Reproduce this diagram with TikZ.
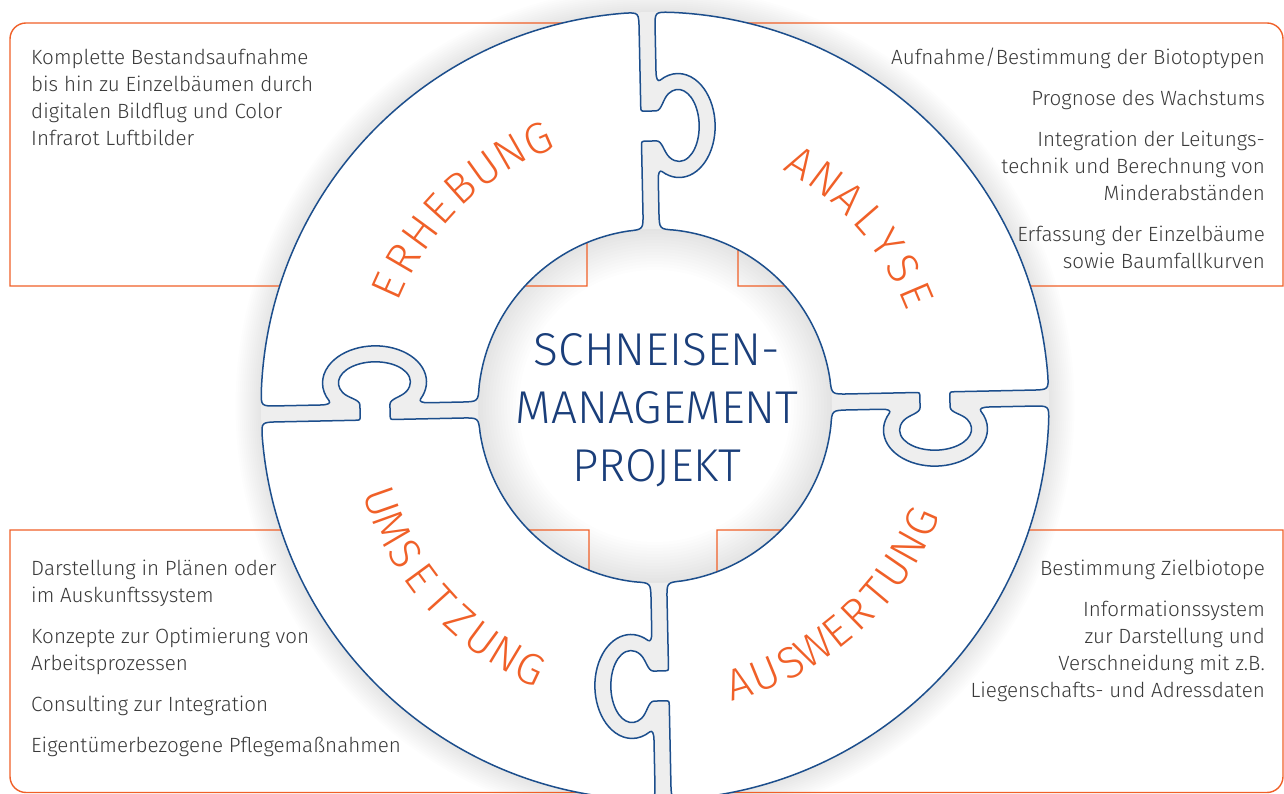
\documentclass[tikz,border=0pt]{standalone}
\usepackage{fontspec}
\setmainfont{Fira Sans Light}
\newfontfamily\titlefont{Fira Sans Light}
\usetikzlibrary{calc}

\definecolor{accent}{RGB}{240,96,40}
\definecolor{rim}{RGB}{28,78,140}
\definecolor{titleblue}{RGB}{26,62,122}
\definecolor{bodytext}{RGB}{58,58,58}
\definecolor{gapgray}{RGB}{238,238,238}

% outline of one puzzle piece (upper-left quadrant), origin at the ring centre;
% male tab on its upper edge, socket on its left edge
\newcommand\puzzlepath{%
  (93.34:394) .. controls (-8,393.9) .. (-8,377) -- (-8,300)
  .. controls (-8,295) .. (-3,295) -- (7,295)
  .. controls (13,295) and (14.1,306.6) .. (20,312)
  arc[start angle=117.3,end angle=-117.3,x radius=20.6,y radius=36]
  .. controls (14.1,253.4) and (13,265) .. (7,265) -- (-3,265)
  .. controls (-8,265) .. (-8,260) -- (-8,193.8)
  .. controls (-8,176.8) .. (97.45:177)
  arc[start angle=97.45,end angle=172.55,radius=177]
  .. controls (-176.8,8) .. (-193.8,8) -- (-226,8)
  .. controls (-233,8) and (-236,9.5) .. (-234.2,12)
  arc[start angle=-28.4,end angle=208.4,x radius=52,y radius=36.6]
  .. controls (-324,9.5) and (-327,8) .. (-334,8) -- (-376.9,8)
  .. controls (-393.9,8) .. (176.66:394)
  arc[start angle=176.66,end angle=93.34,radius=394] -- cycle}

\begin{document}
\begin{tikzpicture}[x=1pt,y=1pt,
  infobox/.style={draw=accent, line width=1.4pt},
  piece/.style={fill=white, draw=rim, line width=1.5pt, line join=round},
  bodytxt/.style={font=\fontsize{20.6}{27}\selectfont, text=bodytext, inner sep=0pt},
  ringlabel/.style={font=\titlefont\fontsize{44}{44}\selectfont, text=accent, inner sep=0pt, text depth=0pt},
  coretext/.style={font=\titlefont\fontsize{46}{58}\selectfont, text=titleblue, align=center, inner sep=0pt}
]
\useasboundingbox (0,0) rectangle (1284,794);
\fill[white] (0,0) rectangle (1284,794);
\coordinate (C) at (655,388);

% soft shadows around the ring and inside the hole
\foreach \w in {3,7,...,51}
  \draw[black, opacity=0.009, line width=\w pt] (C) circle (394);
\foreach \w in {4,10,...,82}
  \draw[black, opacity=0.0065, line width=\w pt] (C) circle (177);

% text boxes
\draw[infobox] (587,508) -- (10,508) -- (10,755) arc[start angle=180,end angle=90,radius=16] -- (587,771) -- cycle;
\draw[infobox] (738,508) -- (1283,508) -- (1283,755) arc[start angle=0,end angle=90,radius=16] -- (738,771) -- cycle;
\draw[infobox] (589,264) -- (10,264) -- (10,17.5) arc[start angle=180,end angle=270,radius=16] -- (589,1.5) -- cycle;
\draw[infobox] (717,264) -- (1283,264) -- (1283,17.5) arc[start angle=0,end angle=-90,radius=16] -- (717,1.5) -- cycle;

% ring with gaps
\fill[gapgray, even odd rule] (C) circle (394) (C) circle (177);
\foreach \k in {0,1,2,3}{
  \begin{scope}[shift={(C)}, rotate=1.2-90*\k]
    \path[piece] \puzzlepath;
  \end{scope}
}

% labels on the ring
\foreach \ch [count=\i] in {E,R,H,E,B,U,N,G}{
  \pgfmathsetmacro\ang{134.7+(4.5-\i)*6}
  \node[ringlabel, rotate=\ang-90] (erh\i) at ([shift={(\ang:292)}]C) {\ch};
}
\foreach \ch [count=\i] in {A,N,A,L,Y,S,E}{
  \pgfmathsetmacro\ang{41+(4-\i)*6}
  \node[ringlabel, rotate=\ang-90] (ana\i) at ([shift={(\ang:284)}]C) {\ch};
}
\foreach \ch [count=\i] in {U,M,S,E,T,Z,U,N,G}{
  \pgfmathsetmacro\ang{222+(\i-5)*5.66}
  \node[ringlabel, rotate=\ang+90] (ums\i) at ([shift={(\ang:290)}]C) {\ch};
}
\foreach \ch [count=\i] in {A,U,S,W,E,R,T,U,N,G}{
  \pgfmathsetmacro\ang{-48.4+(\i-5.5)*5.5}
  \node[ringlabel, rotate=\ang+90] (ausw\i) at ([shift={(\ang:290)}]C) {\ch};
}

% centre title
\node[coretext] (core) at (657,384) {SCHNEISEN-\\MANAGEMENT\\PROJEKT};

% box texts (anchored at the baseline of their last line)
\node[bodytxt, align=left, anchor=base west] (erhtext) at (31,648)
  {Komplette Bestandsaufnahme\\bis hin zu Einzelbäumen durch\\digitalen Bildflug und Color\\Infrarot Luftbilder};
\node[bodytxt, align=right, anchor=base east] (anatext) at (1265,525)
  {Aufnahme/Bestimmung der Biotoptypen\\[14pt]Prognose des Wachstums\\[14pt]Integration der Leitungs-\\technik und Berechnung von\\Minderabständen\\[14pt]Erfassung der Einzelbäume\\sowie Baumfallkurven};
\node[bodytxt, align=left, anchor=base west] (umstext) at (31,41)
  {Darstellung in Plänen oder\\im Auskunftssystem\\[14pt]Konzepte zur Optimierung von\\Arbeitsprozessen\\[14pt]Consulting zur Integration\\[14pt]Eigentümerbezogene Pflegemaßnahmen};
\node[bodytxt, align=right, anchor=base east] (auswtext) at (1265,96)
  {Bestimmung Zielbiotope\\[14pt]Informationssystem\\zur Darstellung und\\Verschneidung mit z.B.\\Liegenschafts- und Adressdaten};
\end{tikzpicture}
\end{document}
